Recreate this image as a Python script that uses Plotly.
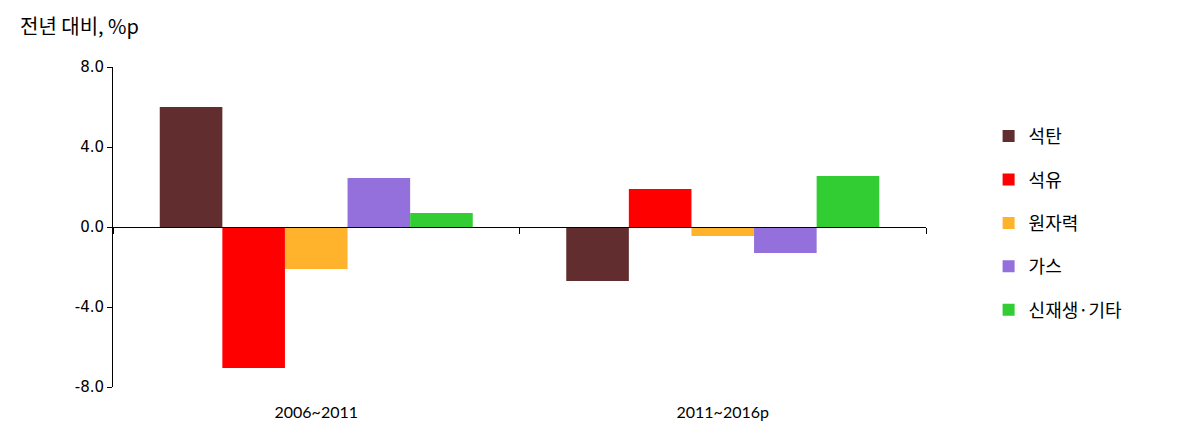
import plotly.graph_objects as go

categories = ["2006~2011", "2011~2016p"]
series_names = ["석탄", "석유", "원자력", "가스", "신재생·기타"]
coal = [6.0, -2.7]
oil = [-7.05, 1.9]
nuclear = [-2.1, -0.45]
gas = [2.45, -1.3]
renew = [0.7, 2.55]
y_ticks = [-8, -4, 0, 4, 8]
y_ticklabels = ["-8.0", "-4.0", "0.0", "4.0", "8.0"]
y_title = "전년 대비, %p"

colors = ["#612D2E", "#FF0000", "#FFB22C", "#9370DB", "#32CD32"]
values = [coal, oil, nuclear, gas, renew]

fig = go.Figure()
for name, vals, col in zip(series_names, values, colors):
    fig.add_trace(go.Bar(
        x=categories, y=vals, name=name, marker=dict(color=col, line=dict(width=0)),
        legendgroup=name,
    ))

# invisible trace to carry the zero-positioned category axis
fig.add_trace(go.Scatter(
    x=categories, y=[0, 0], xaxis="x2", mode="markers",
    marker=dict(opacity=0), showlegend=False, hoverinfo="skip",
))

kfont = "Noto Sans CJK KR"
fig.update_layout(
    width=1200, height=440,
    margin=dict(l=105, r=282, t=59, b=61),
    plot_bgcolor="white", paper_bgcolor="white",
    barmode="group", bargap=0.23, bargroupgap=0,
    title=dict(text=y_title, xref="container", yref="container", x=12/1200, y=1-19/440,
               xanchor="left", yanchor="middle",
               font=dict(family=kfont, size=20, color="#000000")),
    xaxis=dict(
        type="category", showline=False, ticks="", showgrid=False, zeroline=False,
        tickfont=dict(family="Lato", size=16, color="#000000"),
        ticklabelstandoff=14,
    ),
    xaxis2=dict(
        type="category", overlaying="x", matches="x", anchor="free", position=0.5,
        side="bottom", showline=True, linecolor="#000000", linewidth=1,
        ticks="outside", tickson="boundaries", ticklen=6, tickcolor="#000000",
        showticklabels=False, showgrid=False, zeroline=False,
    ),
    yaxis=dict(
        range=[-8, 8], tickvals=y_ticks, ticktext=y_ticklabels,
        showline=True, linecolor="#000000", linewidth=1,
        ticks="outside", ticklen=5, tickcolor="#000000",
        showgrid=False, zeroline=False,
        tickfont=dict(family="DejaVu Sans", size=15, color="#000000"),
    ),
    legend=dict(
        x=1.077, y=0.841, xanchor="left", yanchor="top",
        font=dict(family=kfont, size=18, color="#000000"),
        traceorder="grouped", tracegroupgap=17, itemwidth=30,
        bgcolor="rgba(0,0,0,0)",
    ),
)

fig.write_html("out.html")
